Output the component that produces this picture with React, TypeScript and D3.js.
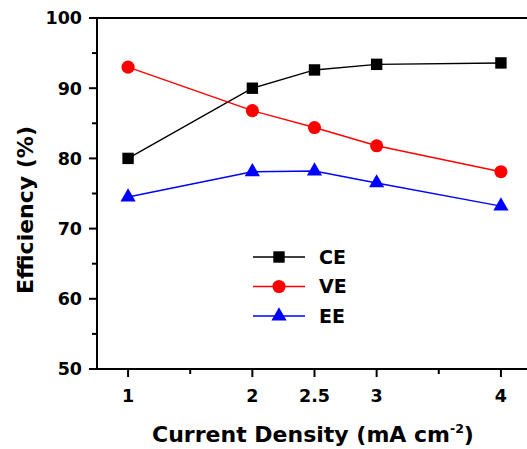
import React, { useEffect, useRef } from "react";
import * as d3 from "d3";

const currentDensity = [1, 2, 2.5, 3, 4];
const ceValues = [80.0, 90.0, 92.6, 93.4, 93.6];
const veValues = [93.0, 86.8, 84.4, 81.8, 78.1];
const eeValues = [74.5, 78.1, 78.2, 76.5, 73.2];
const xTickLabels = [1, 2, 2.5, 3, 4];
const yTickLabels = [50, 60, 70, 80, 90, 100];

const seriesList = [
  { name: "CE", values: ceValues, color: "#000000", symbol: d3.symbolSquare, size: 130 },
  { name: "VE", values: veValues, color: "#ff0000", symbol: d3.symbolCircle, size: 135 },
  { name: "EE", values: eeValues, color: "#0000ff", symbol: d3.symbolTriangle, size: 100 },
];

export default function App() {
  const ref = useRef<SVGSVGElement>(null);

  useEffect(() => {
    const font = "'DejaVu Sans', sans-serif";

    const svg = d3.select(ref.current);
    svg.selectAll("*").remove();

    const x = d3.scaleLinear().domain([0.75, 4.25]).range([97, 532]);
    const y = d3.scaleLinear().domain([50, 100]).range([369, 18]);

    const x0 = x.range()[0];
    const y0 = y(50);

    // frame
    svg
      .append("rect")
      .attr("x", x0)
      .attr("y", y(100))
      .attr("width", x(4.25) - x0)
      .attr("height", y0 - y(100))
      .attr("fill", "none")
      .attr("stroke", "#000")
      .attr("stroke-width", 2);

    // x ticks
    const xg = svg.append("g");
    xg.selectAll("line")
      .data(d3.range(1, 4.01, 0.5))
      .join("line")
      .attr("x1", (d) => x(d))
      .attr("x2", (d) => x(d))
      .attr("y1", y0)
      .attr("y2", (d) => y0 + (xTickLabels.includes(d) ? 8 : 5))
      .attr("stroke", "#000")
      .attr("stroke-width", 2);
    xg.selectAll("text")
      .data(xTickLabels)
      .join("text")
      .attr("x", (d) => x(d))
      .attr("y", y0 + 33)
      .attr("text-anchor", "middle")
      .attr("font-family", font)
      .attr("font-weight", "bold")
      .attr("font-size", 17.5)
      .text((d) => d);

    // y ticks
    const yg = svg.append("g");
    yg.selectAll("line")
      .data(d3.range(50, 100.1, 5))
      .join("line")
      .attr("x1", x0)
      .attr("x2", (d) => x0 - (d % 10 === 0 ? 8 : 5))
      .attr("y1", (d) => y(d))
      .attr("y2", (d) => y(d))
      .attr("stroke", "#000")
      .attr("stroke-width", 2);
    yg.selectAll("text")
      .data(yTickLabels)
      .join("text")
      .attr("x", x0 - 15)
      .attr("y", (d) => y(d))
      .attr("dy", "0.36em")
      .attr("text-anchor", "end")
      .attr("font-family", font)
      .attr("font-weight", "bold")
      .attr("font-size", 17.5)
      .text((d) => d);

    // axis titles
    const xt = svg
      .append("text")
      .attr("x", 313)
      .attr("y", 442)
      .attr("text-anchor", "middle")
      .attr("font-family", font)
      .attr("font-weight", "bold")
      .attr("font-size", 22);
    xt.append("tspan").text("Current Density (mA cm");
    xt.append("tspan").attr("dy", -9).attr("font-size", 12.5).text("-2");
    xt.append("tspan").attr("dy", 9).text(")");

    svg
      .append("text")
      .attr("transform", `translate(33,210) rotate(-90)`)
      .attr("text-anchor", "middle")
      .attr("font-family", font)
      .attr("font-weight", "bold")
      .attr("font-size", 22)
      .text("Efficiency (%)");

    // series
    const line = d3
      .line<number>()
      .x((_, i) => x(currentDensity[i]))
      .y((d) => y(d));

    seriesList.forEach((s) => {
      svg
        .append("path")
        .attr("d", line(s.values))
        .attr("fill", "none")
        .attr("stroke", s.color)
        .attr("stroke-width", 1.4);
      svg
        .append("g")
        .selectAll("path")
        .data(s.values)
        .join("path")
        .attr("transform", (d, i) => `translate(${x(currentDensity[i])},${y(d)})`)
        .attr("d", d3.symbol().type(s.symbol).size(s.size)())
        .attr("fill", s.color);
    });

    // legend
    const legend = svg.append("g").attr("transform", "translate(253,257)");
    seriesList.forEach((s, i) => {
      const g = legend.append("g").attr("transform", `translate(0,${i * 29.5})`);
      g.append("line")
        .attr("x1", 0)
        .attr("x2", 52)
        .attr("stroke", s.color)
        .attr("stroke-width", 1.4);
      g.append("path")
        .attr("transform", "translate(26,0)")
        .attr("d", d3.symbol().type(s.symbol).size(s.size)())
        .attr("fill", s.color);
      g.append("text")
        .attr("x", 66)
        .attr("dy", "0.36em")
        .attr("font-family", font)
        .attr("font-weight", "bold")
        .attr("font-size", 19)
        .text(s.name);
    });
  }, []);

  return (
    <svg
      ref={ref}
      width={527}
      height={449}
      style={{ position: "absolute", left: 0, top: 0, background: "#fff" }}
    />
  );
}
